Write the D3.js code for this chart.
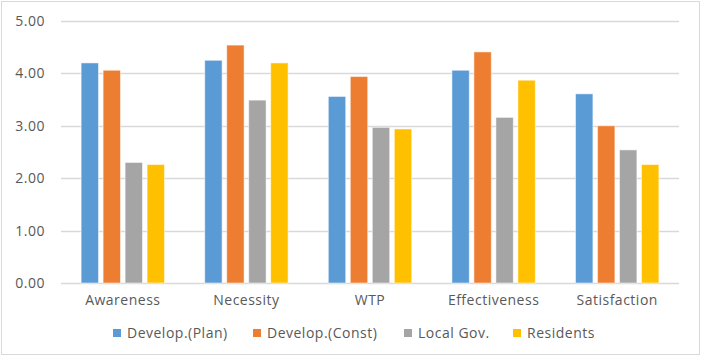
<!DOCTYPE html>
<html>
<head>
<meta charset="utf-8">
<script src="https://cdn.jsdelivr.net/npm/d3@7"></script>
<style>
  body { margin: 0; background: #fff; }
  text { font-family: "Open Sans", "Noto Sans", sans-serif; fill: #595959; letter-spacing: 0.5px; }
</style>
</head>
<body>
<div id="chart"></div>
<script>
const categories = ["Awareness", "Necessity", "WTP", "Effectiveness", "Satisfaction"];
const seriesNames = ["Develop.(Plan)", "Develop.(Const)", "Local Gov.", "Residents"];
const developPlan = [4.20, 4.25, 3.56, 4.06, 3.61];
const developConst = [4.06, 4.54, 3.94, 4.41, 3.00];
const localGov = [2.30, 3.49, 2.97, 3.16, 2.54];
const residents = [2.26, 4.20, 2.94, 3.87, 2.26];
const yTicks = [0, 1, 2, 3, 4, 5];
const colors = ["#5b9bd5", "#ed7d31", "#a5a5a5", "#ffc000"];

const seriesValues = [developPlan, developConst, localGov, residents];

const width = 701, height = 358;
const margin = { top: 21, right: 22, bottom: 75, left: 61 };

const svg = d3.select("#chart").append("svg")
  .attr("width", width)
  .attr("height", height);

// outer border
svg.append("rect")
  .attr("x", 1.5).attr("y", 1.5)
  .attr("width", width - 3).attr("height", height - 5)
  .attr("fill", "#fff")
  .attr("stroke", "#d9d9d9");

const x = d3.scaleBand()
  .domain(categories)
  .range([margin.left, width - margin.right]);

const x1 = d3.scaleBand()
  .domain(seriesNames)
  .range([0, x.bandwidth()])
  .paddingInner(0.21)
  .paddingOuter(0.915);

const y = d3.scaleLinear()
  .domain([0, 5])
  .range([height - margin.bottom, margin.top]);

// gridlines
svg.append("g")
  .selectAll("line")
  .data(yTicks)
  .join("line")
  .attr("x1", margin.left)
  .attr("x2", width - margin.right)
  .attr("y1", d => Math.round(y(d)) + 0.5)
  .attr("y2", d => Math.round(y(d)) + 0.5)
  .attr("stroke", "#d9d9d9")
  .attr("stroke-width", 1.3);

// y axis labels
const yAxis = svg.append("g")
  .attr("transform", `translate(${margin.left - 16},0)`)
  .call(d3.axisLeft(y).tickValues(yTicks).tickFormat(d3.format(".2f")).tickSize(0).tickPadding(0));
yAxis.select(".domain").remove();
yAxis.selectAll("text")
  .style("font-size", "14px")
  .style("font-family", "'Open Sans', sans-serif")
  .attr("fill", "#595959");

// bars
const groups = svg.append("g")
  .selectAll("g")
  .data(categories)
  .join("g")
  .attr("transform", d => `translate(${x(d)},0)`);

groups.selectAll("rect")
  .data((c, i) => seriesNames.map((s, j) => ({ s, j, v: seriesValues[j][i] })))
  .join("rect")
  .attr("x", d => x1(d.s))
  .attr("width", x1.bandwidth())
  .attr("y", d => y(d.v))
  .attr("height", d => y(0) - y(d.v))
  .attr("fill", d => colors[d.j])
  .attr("stroke", "#ffffff")
  .attr("stroke-opacity", 0.5)
  .attr("stroke-width", 1);

// x axis labels
const xAxis = svg.append("g")
  .attr("transform", `translate(0,${y(0)})`)
  .call(d3.axisBottom(x).tickSize(0).tickPadding(12));
xAxis.select(".domain").remove();
xAxis.selectAll("text")
  .style("font-size", "14px")
  .style("font-family", "'Open Sans', sans-serif")
  .attr("fill", "#595959");

// legend
const legendX = [113, 253, 404, 513];
const legend = svg.append("g")
  .selectAll("g")
  .data(seriesNames)
  .join("g")
  .attr("transform", (d, i) => `translate(${legendX[i]},333)`);

legend.append("rect")
  .attr("x", 0).attr("y", -4)
  .attr("width", 8).attr("height", 8)
  .attr("fill", (d, i) => colors[i]);

legend.append("text")
  .attr("x", 14)
  .attr("dy", "0.35em")
  .style("font-size", "14px")
  .text(d => d);
</script>
</body>
</html>
